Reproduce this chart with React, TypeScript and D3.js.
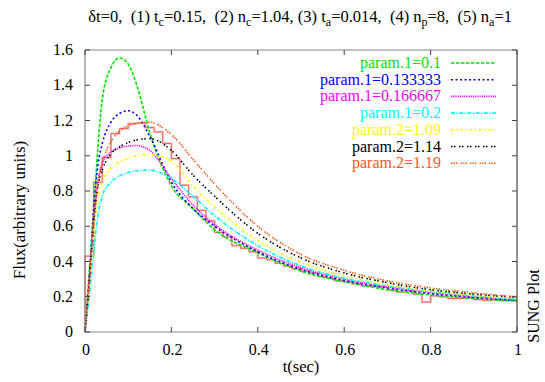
import React from 'react';
import * as d3 from 'd3';

const times = [0, 0.01, 0.02, 0.03, 0.04, 0.06, 0.08, 0.1, 0.12, 0.15, 0.2, 0.25, 0.3, 0.4, 0.5, 0.6, 0.7, 0.8, 0.9, 1.0];

const p1_01 = [0, 0.35, 0.68, 1.05, 1.32, 1.5, 1.555, 1.52, 1.4, 1.13, 0.83, 0.7, 0.58, 0.45, 0.345, 0.285, 0.24, 0.21, 0.19, 0.175];
const p1_0133 = [0, 0.3, 0.7, 0.95, 1.07, 1.19, 1.24, 1.255, 1.23, 1.11, 0.85, 0.7, 0.6, 0.455, 0.355, 0.292, 0.25, 0.218, 0.196, 0.179];
const p1_0167 = [0, 0.3, 0.62, 0.85, 0.96, 1.02, 1.045, 1.055, 1.058, 1.03, 0.87, 0.72, 0.61, 0.465, 0.365, 0.3, 0.256, 0.224, 0.2, 0.183];
const p1_02 = [0, 0.2, 0.45, 0.66, 0.77, 0.85, 0.885, 0.905, 0.915, 0.918, 0.87, 0.77, 0.66, 0.49, 0.375, 0.305, 0.262, 0.23, 0.205, 0.186];
const p2_109 = [0, 0.25, 0.55, 0.76, 0.85, 0.93, 0.965, 0.985, 1.0, 1.007, 0.97, 0.83, 0.71, 0.52, 0.395, 0.318, 0.268, 0.232, 0.208, 0.19];
const p2_114 = [0, 0.28, 0.62, 0.83, 0.92, 1.01, 1.05, 1.075, 1.09, 1.097, 1.03, 0.89, 0.77, 0.56, 0.42, 0.335, 0.28, 0.24, 0.215, 0.197];
const p2_119 = [0, 0.3, 0.65, 0.85, 0.96, 1.08, 1.14, 1.17, 1.185, 1.19, 1.12, 0.98, 0.84, 0.6, 0.44, 0.35, 0.29, 0.25, 0.222, 0.2];

// observed light curve, 0.02 s bins
const binWidth = 0.02;
const binCounts = [
  0.43, 0.85, 0.99, 1.126, 1.154, 1.182, 1.185, 1.16, 1.135, 1.07,
  0.984, 0.833, 0.767, 0.69, 0.63, 0.565, 0.54, 0.49, 0.475, 0.455,
  0.42, 0.41, 0.39, 0.375, 0.36, 0.345, 0.335, 0.315, 0.305, 0.29,
  0.285, 0.275, 0.262, 0.26, 0.255, 0.238, 0.228, 0.235, 0.215, 0.17,
  0.205, 0.2, 0.19, 0.19, 0.195, 0.185, 0.18, 0.182, 0.178, 0.185,
];

const seriesLabels = ['param.1=0.1', 'param.1=0.133333', 'param.1=0.166667', 'param.1=0.2', 'param.2=1.09', 'param.2=1.14', 'param.2=1.19'];
const seriesColors = ['#00e600', '#0000ff', '#ff00ff', '#00ffff', '#ffff00', '#000000', '#ff5a1e'];
const seriesDashes = ['3.5,1.5', '2,2.5', '1.2,1', '4,1.5,1.2,1.5', '3,2.5,1.2,2.5', '1.5,1.5,1.5,3.5', '1.5,1,1.5,1,1.5,3'];
const seriesValues = [p1_01, p1_0133, p1_0167, p1_02, p2_109, p2_114, p2_119];

const xTicks = [0, 0.2, 0.4, 0.6, 0.8, 1];
const yTicks = [0, 0.2, 0.4, 0.6, 0.8, 1, 1.2, 1.4, 1.6];

const W = 545, H = 382;
const margin = { top: 50, right: 28, bottom: 50, left: 85 };
const fontStyle = { fontFamily: "'Liberation Serif', 'Times New Roman', 'DejaVu Serif', serif" };

export default function App() {
  const x = d3.scaleLinear().domain([0, 1]).range([margin.left, W - margin.right]);
  const y = d3.scaleLinear().domain([0, 1.6]).range([H - margin.bottom, margin.top]);

  const line = d3.line<number>()
    .x((_, i) => x(times[i]))
    .y(d => y(d))
    .curve(d3.curveMonotoneX);

  // step outline of the binned data
  const steps: [number, number][] = [[0, 0]];
  binCounts.forEach((v, i) => {
    steps.push([i * binWidth, v]);
    steps.push([(i + 1) * binWidth, v]);
  });
  const stepPath = d3.line<[number, number]>().x(d => x(d[0])).y(d => y(d[1]))(steps) || '';

  const [x0, x1] = x.range();
  const [yb, yt] = y.range();
  const tickLen = 5;
  const legendX = 441;

  return (
    <svg width={W} height={H} style={{ position: 'absolute', left: 0, top: 0, background: '#fff', ...fontStyle }}>
      <rect width={W} height={H} fill="#fff" />

      {/* histogram */}
      <path d={stepPath} fill="none" stroke="#ffc4c4" strokeWidth={2.2} />
      <path d={stepPath} fill="none" stroke="#f06868" strokeWidth={1} />

      {/* model curves */}
      {seriesValues.map((vals, k) => (
        <path key={k} d={line(vals) || ''} fill="none" stroke={seriesColors[k]}
          strokeWidth={1.6} strokeDasharray={seriesDashes[k]} />
      ))}

      {/* frame */}
      <line x1={x0} x2={x1} y1={yt} y2={yt} stroke="#888" strokeWidth={1.2} />
      <line x1={x0} x2={x1} y1={yb} y2={yb} stroke="#888" strokeWidth={1.2} />
      <line x1={x0} x2={x0} y1={yt} y2={yb} stroke="#888" strokeWidth={1.2} />
      <line x1={x1} x2={x1} y1={yt} y2={yb} stroke="#222" strokeWidth={1} />

      {xTicks.map(t => (
        <g key={'x' + t}>
          <line x1={x(t)} x2={x(t)} y1={yb} y2={yb - tickLen} stroke="#444" />
          <line x1={x(t)} x2={x(t)} y1={yt} y2={yt + tickLen} stroke="#444" />
          <text x={x(t) + 1} y={yb + 23} fontSize={16} textAnchor="middle" style={fontStyle}>{String(t)}</text>
        </g>
      ))}
      {yTicks.map(t => (
        <g key={'y' + t}>
          <line x1={x0} x2={x0 + tickLen} y1={y(t)} y2={y(t)} stroke="#444" />
          <line x1={x1} x2={x1 - tickLen} y1={y(t)} y2={y(t)} stroke="#444" />
          <text x={73} y={y(t) + 5} fontSize={16} textAnchor="end" style={fontStyle}>{String(t)}</text>
        </g>
      ))}

      {/* legend */}
      {seriesLabels.map((lab, k) => {
        const ly = 63 + k * 16.7;
        return (
          <g key={lab}>
            <text x={legendX} y={ly + 5} fontSize={16} textAnchor="end" fill={seriesColors[k]} style={fontStyle}>{lab}</text>
            <line x1={451} x2={496} y1={ly} y2={ly} stroke={seriesColors[k]} strokeWidth={1.6} strokeDasharray={seriesDashes[k]} />
          </g>
        );
      })}

      {/* title */}
      <text x={512} y={22} fontSize={16.5} textAnchor="end" style={{ ...fontStyle, whiteSpace: 'pre' }}>
        <tspan>{'δt=0,  (1) t'}</tspan>
        <tspan fontSize={12} dy={4}>c</tspan>
        <tspan dy={-4}>{'=0.15,  (2) n'}</tspan>
        <tspan fontSize={12} dy={4}>c</tspan>
        <tspan dy={-4}>{'=1.04, (3) t'}</tspan>
        <tspan fontSize={12} dy={4}>a</tspan>
        <tspan dy={-4}>{'=0.014,  (4) n'}</tspan>
        <tspan fontSize={12} dy={4}>p</tspan>
        <tspan dy={-4}>{'=8,  (5) n'}</tspan>
        <tspan fontSize={12} dy={4}>a</tspan>
        <tspan dy={-4}>{'=1'}</tspan>
      </text>

      {/* axis labels */}
      <text x={(x0 + x1) / 2} y={372} fontSize={16.5} textAnchor="middle" style={fontStyle}>t(sec)</text>
      <text transform={`translate(25,210) rotate(-90)`} fontSize={17} textAnchor="middle" style={fontStyle}>Flux(arbitrary units)</text>
      <text transform={`translate(539,306) rotate(-90)`} fontSize={16} textAnchor="middle" style={fontStyle}>SUNG Plot</text>
    </svg>
  );
}
